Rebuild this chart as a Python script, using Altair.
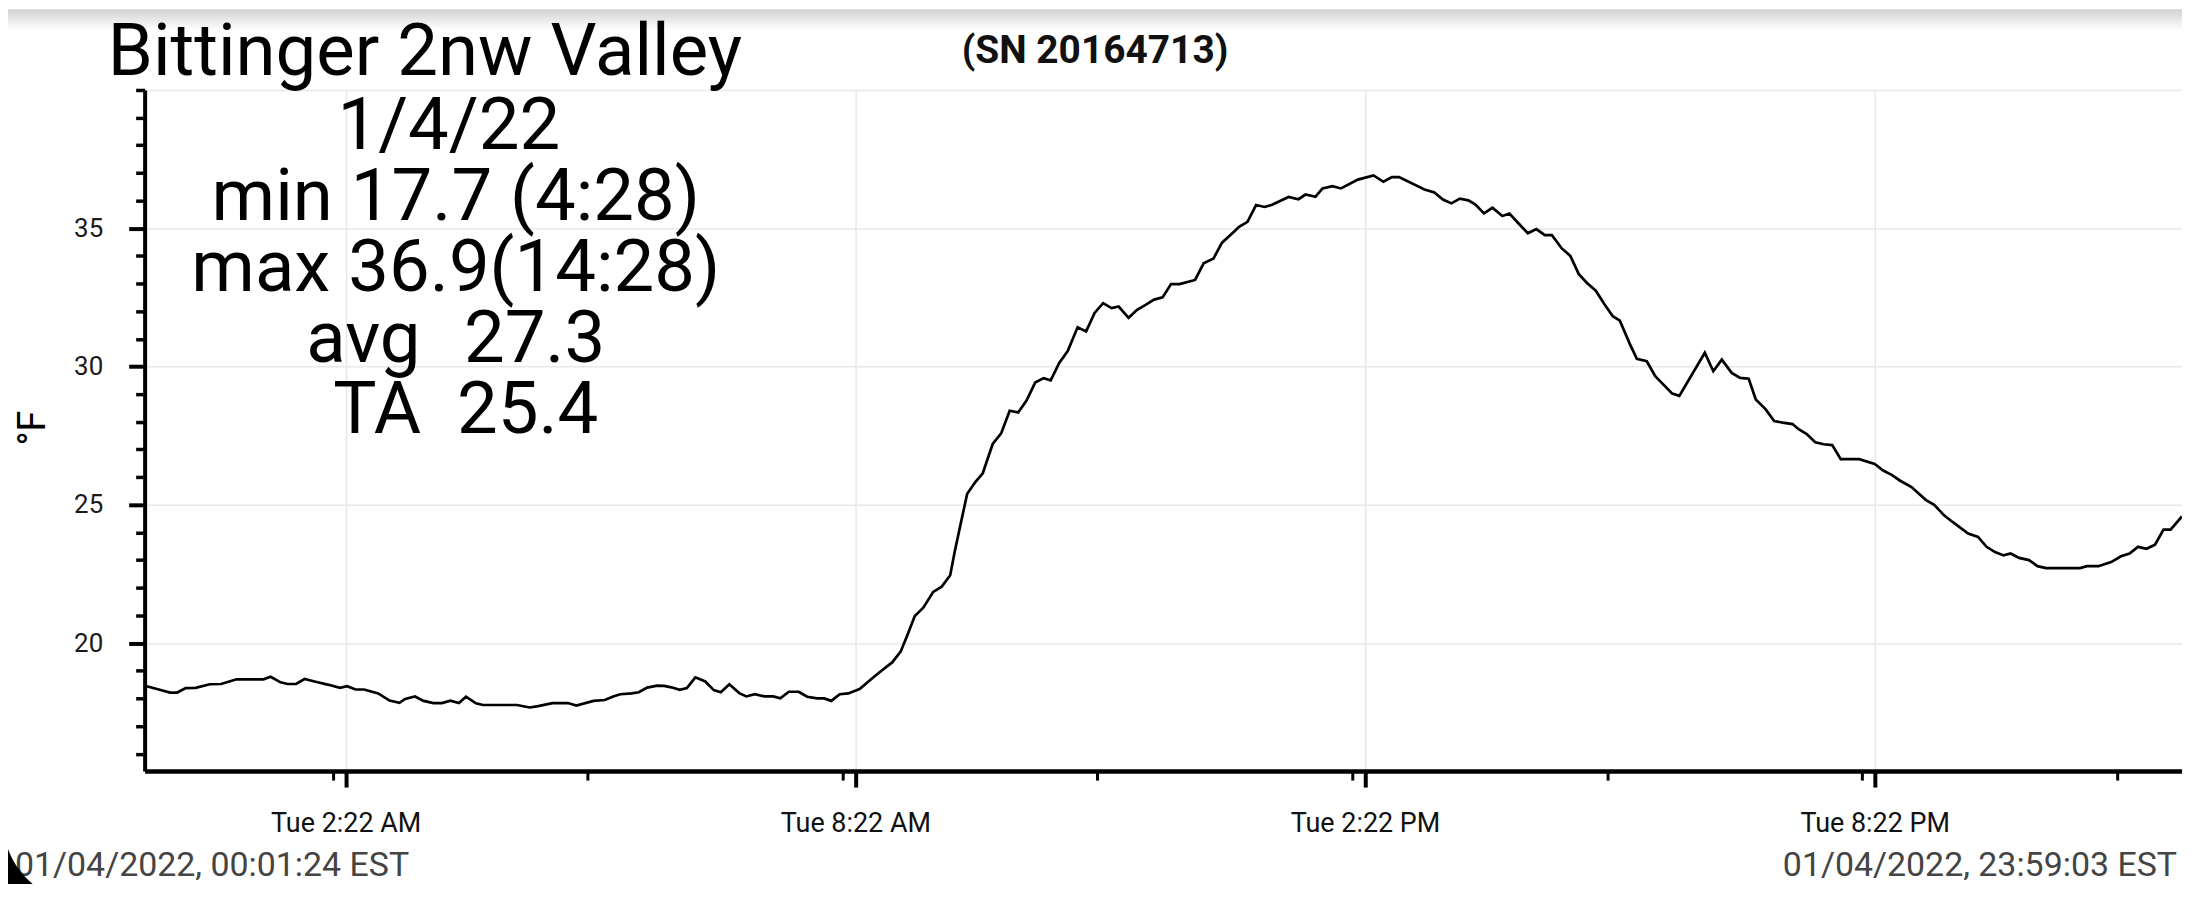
import altair as alt
import pandas as pd
import math

# ---- data (minutes after midnight, deg F) ----
minutes = [1.4, 10, 18, 23, 29, 36, 46, 54, 65, 84, 89, 96, 101, 107, 113, 120, 130, 138, 143, 149,
           155, 165, 173, 180, 184, 191, 197, 204, 210, 216, 222, 227, 234, 239, 263, 272, 278, 288, 299, 305,
           317, 325, 331, 336, 344, 349, 355, 362, 367, 372, 378, 383, 389, 396, 402, 407, 413, 420, 425, 431,
           438, 444, 449, 455, 462, 468, 475, 480, 485, 491, 497,
           505, 515, 522, 528, 534, 539, 544, 550, 557, 563, 569, 572, 576, 581, 587, 592, 599, 605, 611, 617,
           623, 629, 635, 640, 646, 652, 659, 665, 671, 677, 683, 688, 695, 701, 707, 713, 719, 725, 731, 742,
           748, 755, 761, 770,
           773, 779, 785, 791, 796, 808, 815, 820, 827, 832, 839, 845, 857, 868, 875, 881, 886, 904, 911, 917,
           923, 929, 935, 940, 946, 952, 959, 964, 970, 977, 983, 989, 994, 1001, 1007, 1013, 1019, 1025, 1031,
           1037, 1042, 1049, 1054, 1061, 1067, 1079, 1084, 1102, 1108, 1114, 1121, 1127, 1133, 1138, 1145, 1151,
           1157, 1164,
           1168, 1174, 1180, 1186, 1192, 1198, 1211, 1222, 1228, 1234, 1240, 1248, 1258, 1264, 1271, 1277, 1288,
           1295, 1301, 1307, 1313, 1318, 1324, 1331, 1337, 1343, 1367, 1372, 1380, 1389, 1396, 1402, 1408, 1414,
           1420, 1426, 1431, 1439]
temps_f = [18.44, 18.32, 18.21, 18.21, 18.37, 18.38, 18.51, 18.52, 18.69, 18.69, 18.78, 18.58, 18.52, 18.52, 18.70, 18.61, 18.49, 18.38, 18.44, 18.32,
           18.32, 18.18, 17.92, 17.84, 17.98, 18.07, 17.91, 17.83, 17.83, 17.92, 17.83, 18.06, 17.82, 17.76, 17.76, 17.67, 17.72, 17.83, 17.83, 17.74,
           17.91, 17.94, 18.07, 18.15, 18.18, 18.22, 18.39, 18.46, 18.45, 18.40, 18.31, 18.37, 18.76, 18.61, 18.30, 18.22, 18.51, 18.19, 18.07, 18.15,
           18.07, 18.07, 18.00, 18.24, 18.24, 18.06, 18.00, 18.00, 17.91, 18.15, 18.18,
           18.34, 18.77, 19.06, 19.30, 19.69, 20.32, 20.98, 21.28, 21.85, 22.04, 22.45, 23.26, 24.22, 25.40, 25.84, 26.14, 27.20, 27.58, 28.40, 28.34,
           28.78, 29.42, 29.58, 29.50, 30.13, 30.56, 31.42, 31.27, 31.94, 32.29, 32.11, 32.17, 31.76, 32.05, 32.23, 32.42, 32.50, 32.98, 32.98, 33.13,
           33.73, 33.91, 34.48, 34.90,
           35.05, 35.23, 35.84, 35.77, 35.84, 36.13, 36.05, 36.22, 36.14, 36.44, 36.52, 36.44, 36.76, 36.91, 36.68, 36.85, 36.85, 36.40, 36.29, 36.04,
           35.90, 36.07, 36.01, 35.86, 35.54, 35.74, 35.44, 35.53, 35.20, 34.82, 34.97, 34.75, 34.75, 34.27, 34.00, 33.34, 33.01, 32.74, 32.26,
           31.82, 31.66, 30.82, 30.28, 30.19, 29.65, 29.02, 28.94, 30.50, 29.83, 30.25, 29.77, 29.59, 29.56, 28.81, 28.45, 28.03,
           27.97, 27.92,
           27.74, 27.56, 27.26, 27.19, 27.16, 26.65, 26.65, 26.48, 26.24, 26.08, 25.87, 25.64, 25.18, 25.00, 24.62, 24.38, 23.96,
           23.84, 23.48, 23.29, 23.17, 23.24, 23.08, 23.00, 22.78, 22.71, 22.71, 22.78, 22.78, 22.93, 23.14, 23.24, 23.48, 23.41,
           23.56, 24.10, 24.10, 24.58]

title_text = "Bittinger 2nw Valley"
serial_text = "(SN 20164713)"
summary_lines = ["1/4/22", "min 17.7 (4:28)", "max 36.9(14:28)", "avg\u00a0\u200a 27.3", "TA\u00a0 25.4"]
summary_x = [305, 312, 312, 312, 322]
unit_text = "°F"
start_text = "01/04/2022, 00:01:24 EST"
end_text = "01/04/2022, 23:59:03 EST"
y_tick_values = list(range(16, 41))
label_tick_times = [(2, 22), (8, 22), (14, 22), (20, 22)]
minor_tick_times = [(2, 13), (5, 13), (8, 13), (11, 13), (14, 13), (17, 13), (20, 13), (23, 13)]

FONT = "Roboto"
base = pd.Timestamp("2022-01-04")
df = pd.DataFrame({"time": base + pd.to_timedelta(minutes, unit="m"), "temp": temps_f})


def dt(h, m, s=0):
    return alt.DateTime(year=2022, month=1, date=4, hours=h, minutes=m, seconds=s)


is_label_tick = "minutes(datum.value) == 22"
is_major_y = "datum.value % 5 == 0 && datum.value < 40"

x_axis = alt.Axis(
    values=[dt(h, m) for h, m in label_tick_times + minor_tick_times],
    labelExpr=f"{is_label_tick} ? timeFormat(datum.value, '%a %-I:%M %p') : ''",
    title=None,
    domainColor="black", domainWidth=4.5,
    tickColor="black",
    tickSize={"condition": {"test": is_label_tick, "value": 16}, "value": 9},
    tickWidth={"condition": {"test": is_label_tick, "value": 4}, "value": 3},
    labelFont=FONT, labelFontSize=27, labelColor="#111", labelPadding=24,
    labelFlush=False, labelOverlap=False, labelBound=False,
    grid=True, gridColor="#e8e8e8", gridWidth=1.5,
    gridOpacity={"condition": {"test": is_label_tick, "value": 1}, "value": 0},
)

y_axis = alt.Axis(
    values=y_tick_values,
    labelExpr=f"{is_major_y} ? datum.label : ''",
    title=None,
    domainColor="black", domainWidth=4,
    tickColor="black",
    tickSize={"condition": {"test": is_major_y, "value": 16}, "value": 9},
    tickWidth={"condition": {"test": is_major_y, "value": 4}, "value": 3.5},
    labelFont=FONT, labelFontSize=26, labelColor="#1a1a1a", labelPadding=26,
    labelOverlap=False,
    grid=True, gridColor="#e8e8e8", gridWidth=1.5,
    gridOpacity={"condition": {"test": "datum.value % 5 == 0", "value": 1}, "value": 0},
)

line = alt.Chart(df).mark_line(color="black", strokeWidth=2.7, clip=True).encode(
    x=alt.X("time:T", scale=alt.Scale(domain=[dt(0, 0), dt(23, 59, 3)]), axis=x_axis),
    y=alt.Y("temp:Q", scale=alt.Scale(domain=[15.37, 40], nice=False, zero=False), axis=y_axis),
)


def text_layer(txt, x, y, size, align="left", weight="normal", color="black", angle=0):
    return alt.Chart(pd.DataFrame({"label": [txt]})).mark_text(
        font=FONT, fontSize=size, align=align, baseline="alphabetic",
        fontWeight=weight, color=color, angle=angle,
    ).encode(x=alt.value(x), y=alt.value(y), text="label:N")


one_row = pd.DataFrame({"k": [0]})

# grey screen shadow along the top edge
shadow = alt.Chart(one_row).mark_rect(
    fill=alt.Gradient(gradient="linear", x1=0, x2=0, y1=0, y2=1,
                      stops=[alt.GradientStop(color="#d2d2d2", offset=0),
                             alt.GradientStop(color="#ffffff", offset=1)])
).encode(x=alt.value(-137), x2=alt.value(2043), y=alt.value(-81), y2=alt.value(-60))

# black rounded screen corner at bottom-left
corner = alt.Chart(one_row).mark_arc(
    color="black", innerRadius=82, outerRadius=260, theta=math.pi, theta2=1.5 * math.pi,
).encode(x=alt.value(-60), y=alt.value(733))

layers = [shadow, line,
          text_layer(title_text, -37, -15, 72.7),
          text_layer(serial_text, 953, -27, 39, align="center", weight="bold", color="#111"),
          text_layer(unit_text, -100, 339, 38, align="center", angle=270),
          text_layer(start_text, -130, 788, 34, color="#444"),
          text_layer(end_text, 2038, 788, 34, align="right", color="#444")]
for i, ln in enumerate(summary_lines):
    layers.append(text_layer(ln, summary_x[i], 59 + i * 71.3, 72.7, align="center"))
layers.append(corner)

chart = alt.layer(*layers).properties(
    width=2043, height=683,
    autosize=alt.AutoSizeParams(type="none"),
    padding={"left": 137, "top": 81, "right": 0, "bottom": 112},
    background="white",
).configure_view(stroke=None)

chart.save("out.html", embed_options={"renderer": "svg", "actions": False})
